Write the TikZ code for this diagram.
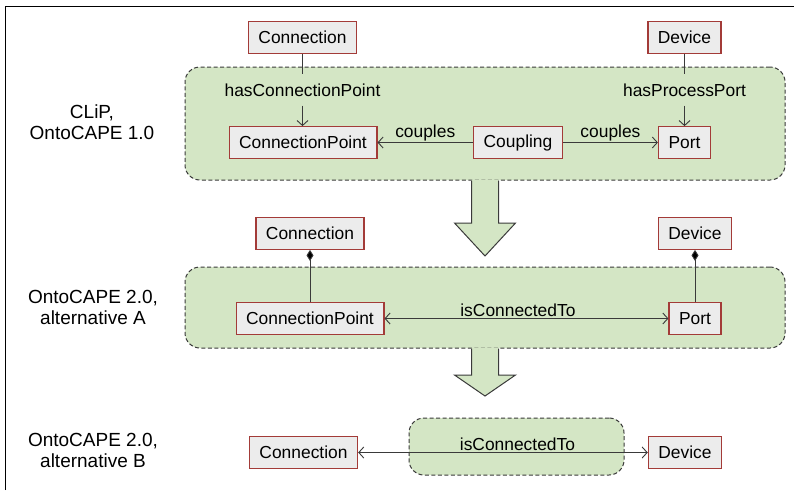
\documentclass[tikz,border=0pt]{standalone}
\usepackage{fontspec}
\setmainfont{Liberation Sans}
\usetikzlibrary{arrows.meta}
\definecolor{pgreen}{HTML}{D4E6C5}
\definecolor{boxfill}{HTML}{ECECEC}
\definecolor{boxline}{HTML}{A33B38}
\definecolor{lineg}{HTML}{3A3A3A}
\begin{document}
\begin{tikzpicture}[x=1pt,y=-1pt,
  cls/.style={draw=boxline, fill=boxfill, line width=1.3pt, inner xsep=10pt, inner ysep=0pt,
    minimum height=31.5pt, font=\fontsize{17.4}{20}\selectfont},
  lbl/.style={font=\fontsize{17.4}{20}\selectfont, inner sep=1pt},
  vlbl/.style={font=\fontsize{17.4}{20}\selectfont, inner sep=0pt, minimum height=31pt},
  side/.style={font=\fontsize{19}{21}\selectfont, align=center, inner sep=0pt},
  panel/.style={draw=lineg, fill=pgreen, line width=1pt, dash pattern=on 4pt off 2.5pt,
    rounded corners=15pt, inner sep=0pt},
  rel/.style={draw=lineg, line width=0.9pt},
  tip/.style={-{Straight Barb[length=5pt,width=11pt]}},
  btip/.style={{Straight Barb[length=5pt,width=11pt]}-{Straight Barb[length=5pt,width=11pt]}},
  comp/.style={-{Diamond[length=11pt,width=7pt,fill=black]}},
  bigfill/.style={fill=pgreen},
  bigline/.style={draw=lineg, line width=1pt, line join=miter}
]
\useasboundingbox (0,0) rectangle (794,490);
\fill[white] (0,0) rectangle (794,490);
% frame
\draw[black, line width=1.4pt] (5.5,490) -- (5.5,6.5) -- (794,6.5);

% panels
\node[panel, minimum width=600pt, minimum height=113pt] (p1) at (485,123.5) {};
\node[panel, minimum width=600pt, minimum height=81pt] (p2) at (485,307.5) {};
\node[panel, minimum width=215pt, minimum height=57pt] (p3) at (516.5,446.5) {};

% big arrow 1 (p1 -> p2)
\fill[bigfill] ([xshift=-13.5pt,yshift=1pt]p1.south) -- ([xshift=-13.5pt]p1.south |- 0,223) -- ([xshift=-30.5pt]p1.south |- 0,223)
     -- (p1.south |- 0,256) -- ([xshift=30.5pt]p1.south |- 0,223) -- ([xshift=13.5pt]p1.south |- 0,223) -- ([xshift=13.5pt,yshift=1pt]p1.south) -- cycle;
\draw[bigline] ([xshift=-13.5pt]p1.south) -- ([xshift=-13.5pt]p1.south |- 0,223) -- ([xshift=-30.5pt]p1.south |- 0,223)
     -- (p1.south |- 0,256) -- ([xshift=30.5pt]p1.south |- 0,223) -- ([xshift=13.5pt]p1.south |- 0,223) -- ([xshift=13.5pt]p1.south);
% big arrow 2 (p2 -> p3)
\fill[bigfill] ([xshift=-13.5pt,yshift=1pt]p2.south) -- ([xshift=-13.5pt]p2.south |- 0,375) -- ([xshift=-30.5pt]p2.south |- 0,375)
     -- (p2.south |- 0,396) -- ([xshift=30.5pt]p2.south |- 0,375) -- ([xshift=13.5pt]p2.south |- 0,375) -- ([xshift=13.5pt,yshift=1pt]p2.south) -- cycle;
\draw[bigline] ([xshift=-13.5pt]p2.south) -- ([xshift=-13.5pt]p2.south |- 0,375) -- ([xshift=-30.5pt]p2.south |- 0,375)
     -- (p2.south |- 0,396) -- ([xshift=30.5pt]p2.south |- 0,375) -- ([xshift=13.5pt]p2.south |- 0,375) -- ([xshift=13.5pt]p2.south);

% side labels
\node[side] (s1) at (92,122) {CLiP,\\OntoCAPE 1.0};
\node[side] (s2) at (93,307) {OntoCAPE 2.0,\\alternative A};
\node[side] (s3) at (93,450) {OntoCAPE 2.0,\\alternative B};

% CLiP / OntoCAPE 1.0
\node[cls] (conn1) at (302.5,37.5) {Connection};
\node[cls] (dev1) at (684.5,37.5) {Device};
\node[cls] (cp1) at (303,142.5) {ConnectionPoint};
\node[cls] (coup) at (518,142.5) {Coupling};
\node[cls] (port1) at (684.5,142.5) {Port};
\node[vlbl] (hcp) at (302.5,90) {hasConnectionPoint};
\node[vlbl] (hpp) at (684.5,90) {hasProcessPort};
\draw[rel] (conn1) -- (hcp);
\draw[rel,tip] (hcp) -- (cp1.north -| hcp);
\draw[rel] (dev1) -- (hpp);
\draw[rel,tip] (hpp) -- (port1);
\draw[rel,tip] (coup) -- node[lbl,above] {couples} (cp1);
\draw[rel,tip] (coup) -- node[lbl,above] {couples} (port1);

% OntoCAPE 2.0 alternative A
\node[cls] (conn2) at (310,233.5) {Connection};
\node[cls] (dev2) at (695,233.5) {Device};
\node[cls] (cp2) at (310,318.5) {ConnectionPoint};
\node[cls] (port2) at (695,318.5) {Port};
\draw[rel,comp] (cp2) -- (conn2);
\draw[rel,comp] (port2) -- (dev2);
\draw[rel,btip] (cp2) -- node[lbl,above,pos=0.47] {isConnectedTo} (port2);

% OntoCAPE 2.0 alternative B
\node[cls] (conn3) at (303.5,452.5) {Connection};
\node[cls] (dev3) at (685,452.5) {Device};
\draw[rel,btip] (conn3) -- node[lbl,above,pos=0.55] {isConnectedTo} (dev3);
\end{tikzpicture}
\end{document}
